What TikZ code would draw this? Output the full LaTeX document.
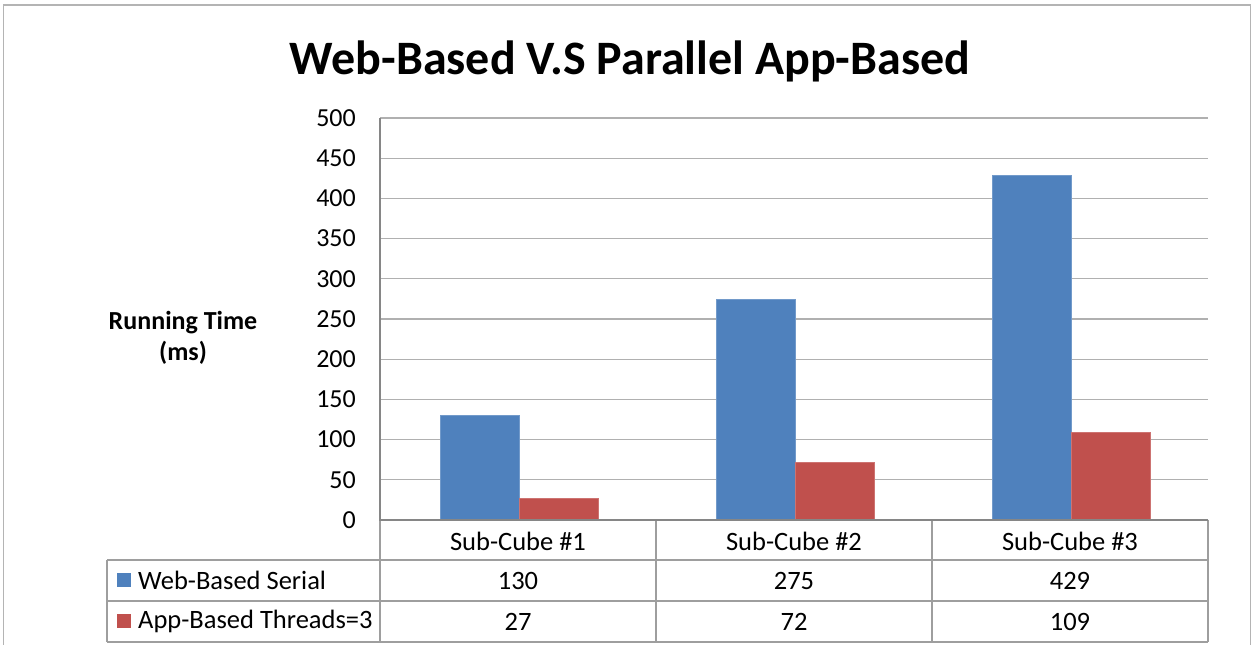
\documentclass[tikz,border=0pt]{standalone}
\usepackage{fontspec}
\setmainfont{Carlito}
\definecolor{serA}{HTML}{4F81BD}
\definecolor{serB}{HTML}{C0504D}
\definecolor{gridc}{HTML}{B0B0B0}
\definecolor{axisc}{HTML}{868686}
\definecolor{framec}{HTML}{B4B4B4}
\begin{document}
\begin{tikzpicture}[x=1pt,y=1pt,
  grid line/.style={gridc,line width=1.2pt},
  axis line/.style={axisc,line width=1.4pt},
  table line/.style={gridc!90!black,line width=1.2pt},
  barA/.style={fill=serA,draw=serA!80!white,line width=0.6pt},
  barB/.style={fill=serB,draw=serB!80!white,line width=0.6pt},
  ticklabel/.style={anchor=east,inner sep=0pt,font=\fontsize{26}{28}\selectfont},
  celltext/.style={inner sep=0pt,font=\fontsize{26.5}{28}\selectfont},
  legendkey/.style={minimum size=14pt,inner sep=0pt}]
\useasboundingbox (0,0) rectangle (1253,645);
% chart frame (runs off the bottom edge)
\begin{scope}
\clip (0,0) rectangle (1253,645);
\draw[framec,line width=1.5pt] (3.5,-20) -- (3.5,640) -- (1250.5,640) -- (1250.5,-20);
\end{scope}
% title
\node[font=\bfseries\fontsize{48}{52}\selectfont] (title) at (630,584) {Web-Based V.S Parallel App-Based};
% axis title
\node[font=\bfseries\fontsize{26}{31}\selectfont,align=center] (ytitle) at (183,307) {Running Time\\(ms)};
% horizontal gridlines and value labels
\foreach \v in {50,100,...,500}{
  \draw[grid line] (380,{125+\v*0.804}) -- (1208,{125+\v*0.804});
}
\foreach \v in {0,50,...,500}{
  \node[ticklabel] (tick\v) at (356,{125+\v*0.804}) {\v};
}
% bars: Web-Based Serial and App-Based Threads=3
\foreach \i/\a/\b in {0/130/27,1/275/72,2/429/109}{
  \path[barA] ({440+\i*276},125) rectangle ({519+\i*276},{125+\a*0.804});
  \path[barB] ({519+\i*276},125) rectangle ({598+\i*276},{125+\b*0.804});
}
% data table
\draw[table line] (107,85) -- (1208,85);
\draw[table line] (107,44) -- (1208,44);
\draw[table line] (107,3) -- (1208,3);
\draw[table line] (107,85) -- (107,3);
\draw[table line] (380,125) -- (380,3);
\foreach \x in {656,932,1208}{
  \draw[table line] (\x,125) -- (\x,3);
}
% axes
\draw[axis line] (380,527) -- (380,125) -- (1208,125);
% header row
\node[celltext] (c1) at (518,104) {Sub-Cube \#1};
\node[celltext] (c2) at (794,104) {Sub-Cube \#2};
\node[celltext] (c3) at (1070,104) {Sub-Cube \#3};
% series rows
\node[legendkey,fill=serA] (keyA) at (124,64.5) {};
\node[legendkey,fill=serB] (keyB) at (124,23.5) {};
\node[celltext,anchor=west] (nameA) at (138,64.5) {Web-Based Serial};
\node[celltext,anchor=west] (nameB) at (138,23.5) {App-Based Threads=3};
\node[celltext] (a1) at (518,64.5) {130};
\node[celltext] (a2) at (794,64.5) {275};
\node[celltext] (a3) at (1070,64.5) {429};
\node[celltext] (b1) at (518,23.5) {27};
\node[celltext] (b2) at (794,23.5) {72};
\node[celltext] (b3) at (1070,23.5) {109};
\end{tikzpicture}
\end{document}
